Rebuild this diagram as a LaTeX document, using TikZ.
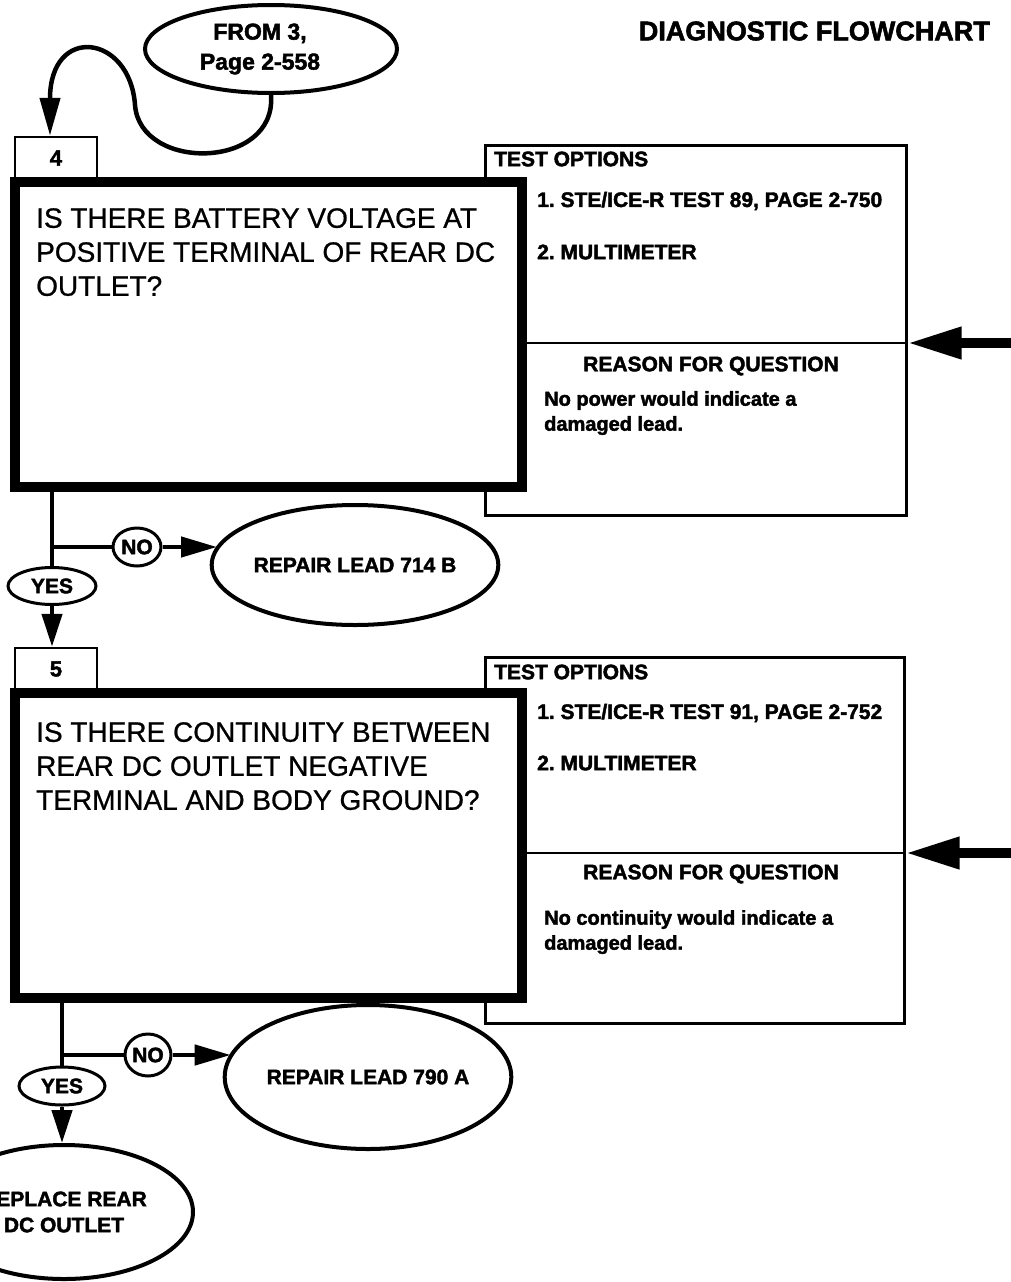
\documentclass[tikz,border=0pt]{standalone}
\usepackage{fontspec}
\setmainfont{Liberation Sans}
\newfontfamily\heavy[FakeBold=2]{Liberation Sans}
\newfontfamily\medium[FakeBold=0.8]{Liberation Sans}
\frenchspacing
\usetikzlibrary{arrows.meta,shapes.geometric}
\begin{document}
\begin{tikzpicture}[x=1pt,y=-1pt,
  thinbox/.style={draw, line width=2.5pt, fill=white, inner sep=0pt},
  qbox/.style={draw, line width=10pt, fill=white, minimum width=507pt, minimum height=305pt, anchor=north west, inner sep=0pt},
  lab/.style={font=\fontsize{21}{25}\selectfont\heavy\bfseries, inner sep=0pt},
  reason/.style={font=\fontsize{20}{25}\selectfont\heavy\bfseries, align=left, anchor=north west, inner sep=0pt},
  qtext/.style={font=\fontsize{28}{34}\selectfont\medium, align=left, anchor=north west, inner sep=0pt},
  oval/.style={ellipse, draw, line width=4pt, fill=white, inner sep=0pt, font=\fontsize{21}{27}\selectfont\heavy\bfseries, align=center},
  tag/.style={ellipse, draw, line width=3pt, fill=white, inner sep=0pt, font=\fontsize{21}{24}\selectfont\heavy\bfseries},
  conn/.style={line width=4.5pt},
  tipdown/.style={-{Triangle[length=33pt,width=20pt]}},
  tipno/.style={-{Triangle[length=36pt,width=20pt]}},
  bigin/.style={line width=10pt, -{Triangle[length=54pt,width=30pt]}},
]
\fill[white] (0,0) rectangle (1010,1282);
\useasboundingbox (0,0) rectangle (1010,1282);

% title
\node[font=\fontsize{27}{30}\selectfont\heavy\bfseries, inner sep=0pt, anchor=east] (title) at (990,31) {DIAGNOSTIC FLOWCHART};

% entry
\node[oval, minimum width=252pt, minimum height=88pt, font=\fontsize{23}{30}\selectfont\heavy\bfseries] (from) at (271,49) {FROM 3,\hspace*{22pt}\\Page 2-558\hspace*{22pt}};

% ---------- step 4 ----------
\node[thinbox, anchor=north west, minimum width=421pt, minimum height=370pt] (t4) at (484,144) {};
\node[thinbox, lab, font=\fontsize{22}{25}\selectfont\heavy\bfseries, minimum width=82pt, minimum height=42pt] (l4) at (56,158) {4};
\node[qbox] (b4) at (10,177) {};
\node[qtext] (q4) at (36,208) {IS THERE BATTERY VOLTAGE AT\\POSITIVE TERMINAL OF REAR DC\\OUTLET?};
\node[lab, anchor=west] (to4) at (494,159) {TEST OPTIONS};
\node[lab, anchor=west] (o41) at (537,201) {1. STE/ICE-R TEST 89, PAGE 2-750};
\node[lab, anchor=west] (o42) at (537,252) {2. MULTIMETER};
\coordinate (d4) at (0,343);
\draw[line width=2.5pt] (b4.east |- d4) -- (t4.east |- d4);
\node[lab] (r4) at (711,366) {REASON FOR QUESTION};
\node[reason] (w4) at (544,391) {No power would indicate a\\damaged lead.};
\coordinate (in4) at (1014,343);
\draw[bigin] (in4) -- (t4.east |- d4);

\coordinate (a4) at (50,0);
\draw[conn, -{Triangle[length=38pt,width=20pt]}] (from.south) .. controls (277,170) and (140,172) .. (135,105) .. controls (130,34) and (50,24) .. (l4.north -| a4);

\coordinate (j4) at (52,547);
\node[tag, minimum width=88pt, minimum height=37pt] (y4) at (52,586) {YES};
\node[tag, minimum width=48pt, minimum height=38pt] (n4) at (137,547) {NO};
\node[oval, minimum width=280pt, minimum height=120pt] (rp4) at (355,565) {REPAIR LEAD 714 B};

% ---------- step 5 ----------
\node[thinbox, anchor=north west, minimum width=419pt, minimum height=366pt] (t5) at (484,656) {};
\node[thinbox, lab, font=\fontsize{22}{25}\selectfont\heavy\bfseries, minimum width=82pt, minimum height=42pt] (l5) at (56,669) {5};
\node[qbox] (b5) at (10,688) {};
\node[qtext] (q5) at (36,722) {IS THERE CONTINUITY BETWEEN\\REAR DC OUTLET NEGATIVE\\TERMINAL AND BODY GROUND?};
\node[lab, anchor=west] (to5) at (494,672) {TEST OPTIONS};
\node[lab, anchor=west] (o51) at (537,713) {1. STE/ICE-R TEST 91, PAGE 2-752};
\node[lab, anchor=west] (o52) at (537,763) {2. MULTIMETER};
\coordinate (d5) at (0,853);
\draw[line width=2.5pt] (b5.east |- d5) -- (t5.east |- d5);
\node[lab] (r5) at (711,874) {REASON FOR QUESTION};
\node[reason] (w5) at (544,910) {No continuity would indicate a\\damaged lead.};
\coordinate (in5) at (1014,853);
\draw[bigin] (in5) -- (t5.east |- d5);

\coordinate (j5) at (62,1055);
\node[tag, minimum width=86pt, minimum height=38pt] (y5) at (62,1086) {YES};
\node[tag, minimum width=46pt, minimum height=42pt] (n5) at (148,1055) {NO};
\node[oval, minimum width=277pt, minimum height=144pt] (rp5) at (368,1077) {REPAIR LEAD 790 A};
\node[oval, minimum width=258pt, minimum height=134pt, font=\fontsize{21}{26}\selectfont\heavy\bfseries] (rep) at (64,1212) {REPLACE REAR\\DC OUTLET};

% connectors step 4
\draw[conn] (b4.south -| j4) -- (y4.north);
\draw[conn] (j4) -- (n4.west);
\draw[conn, tipno] (n4.east) -- (n4.east -| rp4.172);
\draw[conn, tipdown] (y4.south) -- (y4.south |- l5.north);

% connectors step 5
\draw[conn] (b5.south -| j5) -- (y5.north);
\draw[conn] (j5) -- (n5.west);
\draw[conn, tipno] (n5.east) -- (n5.east -| rp5.170);
\draw[conn, tipdown] (y5.south) -- (y5.south |- rep.north);
\end{tikzpicture}
\end{document}
